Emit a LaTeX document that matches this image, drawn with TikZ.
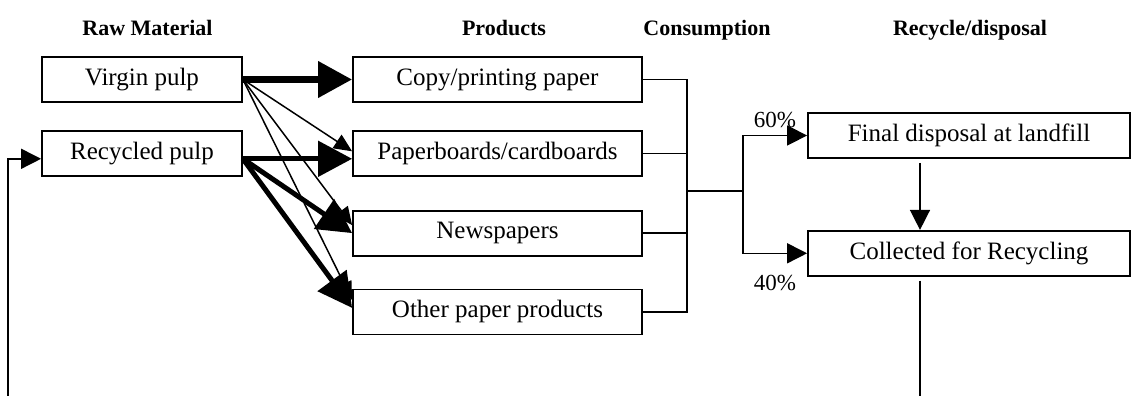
\documentclass[tikz,border=0pt]{standalone}
\usepackage{fontspec}
\setmainfont{Liberation Serif}
\usetikzlibrary{arrows.meta, positioning}
\tikzstyle{block} = [rectangle, draw, line width=0.9pt, text centered, minimum height=22.5pt, font=\fontsize{12.5}{15}\selectfont]
\tikzstyle{raw} = [block, minimum width=100pt]
\tikzstyle{product} = [block, minimum width=144.5pt]
\tikzstyle{fate} = [block, minimum width=161pt]
\tikzstyle{header} = [anchor=base, font=\fontsize{11}{13}\selectfont\bfseries]
\tikzstyle{share} = [font=\fontsize{11.5}{13}\selectfont]
\tikzstyle{link} = [line width=0.75pt]
\tikzstyle{arrow} = [line width=0.75pt, -{Triangle[length=10pt, width=10pt]}]
\tikzstyle{light} = [line width=0.75pt, -{Triangle[length=9pt, width=8pt]}]
\tikzstyle{heavy} = [line width=2.5pt, -{Triangle[length=17pt, width=17.5pt]}]

\begin{document}
\begin{tikzpicture}[x=0.5pt, y=-0.5pt]
    \useasboundingbox (0,0) rectangle (1131,396);

    % Column headers
    \node (h_raw) [header] at (147.5,35) {Raw Material};
    \node (h_prod) [header] at (504,35) {Products};
    \node (h_cons) [header] at (707,35) {Consumption};
    \node (h_fate) [header] at (970,35) {Recycle/disposal};

    % Raw material
    \node (virgin) [raw] at (142,79.5) {Virgin pulp};
    \node (recycled) [raw, below=13.5pt of virgin] {Recycled pulp};

    % Products
    \node (copy) [product] at (497.5,79.5) {Copy/printing paper};
    \node (boards) [product, below=13.5pt of copy] {Paperboards/cardboards};
    \node (news) [product, below=16.5pt of boards] {Newspapers};
    \node (other) [product, below=16pt of news] {Other paper products};

    % Recycle/disposal
    \node (landfill) [fate] at (969,135.5) {Final disposal at landfill};
    \node (collected) [fate, below=35.5pt of landfill] {Collected for Recycling};

    \coordinate (rsrc) at ([yshift=-2.75pt]recycled.east);
    \coordinate (merge) at (687,191);
    \coordinate (split) at (743,191);
    \coordinate (return) at (920,398);
    \coordinate (back) at (8,398);

    % ==== Arrows
    % Virgin pulp
    \draw [light] (virgin.east) -- ([yshift=1pt]boards.west);
    \draw [light] (virgin.east) -- ([yshift=4pt]news.west);
    \draw [light] (virgin.east) -- ([yshift=6pt]other.west);
    \draw [heavy, line width=3.5pt] (virgin.east) -- (copy.west);

    % Recycled pulp
    \draw [heavy] (rsrc) -- ([yshift=-2.75pt]boards.west);
    \draw [heavy] (rsrc) -- (news.west);
    \draw [heavy] (rsrc) -- ([yshift=2pt]other.west);

    % Consumption
    \draw [link] (copy.east) -| (merge |- other.east) -- (other.east);
    \draw [link] (boards.east) -- (boards.east -| merge);
    \draw [link] (news.east) -- (news.east -| merge);
    \draw [link] (merge) -- (split);
    \draw [arrow] (split) |- (landfill.west) node [share, pos=0.75, above] {60\%};
    \draw [arrow] (split) |- (collected.west) node [share, pos=0.75, below=7pt] {40\%};

    % Recycling loop
    \draw [arrow, shorten <=2pt] (landfill.south -| return) -- (collected.north -| return);
    \draw [link, shorten <=2pt] (collected.south -| return) -- (return);
    \draw [arrow] (back) |- ([yshift=-2.75pt]recycled.west);

\end{tikzpicture}
\end{document}
